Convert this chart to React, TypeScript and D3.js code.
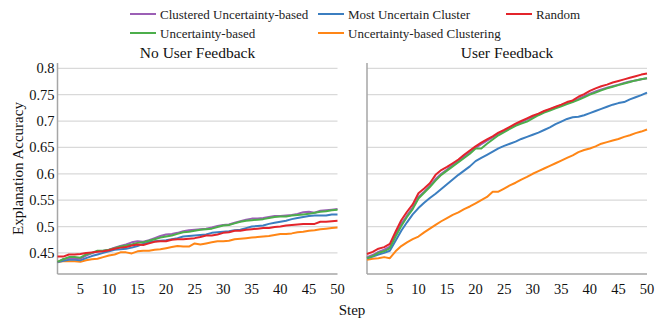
import React from "react";
import * as d3 from "d3";

const steps = d3.range(1, 51);
const yTicks = [0.45, 0.5, 0.55, 0.6, 0.65, 0.7, 0.75, 0.8];
const xTicks = [5, 10, 15, 20, 25, 30, 35, 40, 45, 50];

const seriesNames = [
  "Clustered Uncertainty-based",
  "Most Uncertain Cluster",
  "Random",
  "Uncertainty-based",
  "Uncertainty-based Clustering",
];
const seriesColors = ["#9b5fb5", "#3b7ec0", "#e3242b", "#4cae4b", "#ff8616"];

// No User Feedback
const nfClustered = [
  0.432, 0.438, 0.44, 0.44, 0.439, 0.445, 0.449, 0.453, 0.454, 0.456,
  0.46, 0.463, 0.466, 0.47, 0.472, 0.471, 0.474, 0.478, 0.482, 0.485,
  0.486, 0.488, 0.491, 0.493, 0.494, 0.495, 0.496, 0.498, 0.501, 0.503,
  0.504, 0.507, 0.51, 0.513, 0.515, 0.515, 0.516, 0.518, 0.52, 0.52,
  0.521, 0.522, 0.524, 0.527, 0.528, 0.526, 0.53, 0.531, 0.532, 0.533,
];
const nfMostUncertain = [
  0.432, 0.435, 0.437, 0.437, 0.436, 0.44, 0.444, 0.447, 0.45, 0.453,
  0.456, 0.457, 0.458, 0.46, 0.463, 0.467, 0.47, 0.472, 0.473, 0.474,
  0.476, 0.478, 0.481, 0.482, 0.483, 0.484, 0.485, 0.488, 0.489, 0.49,
  0.491, 0.493, 0.494, 0.497, 0.5, 0.501, 0.502, 0.505, 0.507, 0.509,
  0.511, 0.514, 0.516, 0.518, 0.52, 0.521, 0.521, 0.521, 0.523, 0.523,
];
const nfRandom = [
  0.443, 0.443, 0.447, 0.447, 0.448, 0.45, 0.451, 0.452, 0.453, 0.455,
  0.458, 0.46, 0.461, 0.464, 0.466, 0.465, 0.468, 0.471, 0.472, 0.472,
  0.475, 0.476, 0.476, 0.477, 0.478, 0.48, 0.483, 0.483, 0.485, 0.488,
  0.489, 0.492, 0.492, 0.494, 0.495, 0.496, 0.497, 0.497, 0.499, 0.5,
  0.502, 0.503, 0.504, 0.505, 0.505, 0.505, 0.509, 0.509, 0.51, 0.511,
];
const nfUncertainty = [
  0.433, 0.438, 0.442, 0.442, 0.441, 0.447, 0.45, 0.454, 0.454, 0.456,
  0.459, 0.462, 0.464, 0.466, 0.469, 0.47, 0.473, 0.476, 0.479, 0.481,
  0.483, 0.486, 0.489, 0.49, 0.492, 0.494, 0.495, 0.496, 0.499, 0.502,
  0.503, 0.506, 0.509, 0.511, 0.512, 0.513, 0.514, 0.516, 0.518, 0.519,
  0.519, 0.521, 0.522, 0.523, 0.524, 0.526, 0.528, 0.529, 0.531, 0.532,
];
const nfClustering = [
  0.433, 0.434, 0.434, 0.434, 0.433, 0.436, 0.438, 0.439, 0.442, 0.445,
  0.447, 0.451, 0.451, 0.449, 0.453, 0.454, 0.454, 0.456, 0.457, 0.459,
  0.461, 0.463, 0.462, 0.462, 0.468, 0.466, 0.468, 0.47, 0.472, 0.472,
  0.473, 0.476, 0.477, 0.478, 0.479, 0.48, 0.481, 0.482, 0.484, 0.486,
  0.486, 0.487, 0.489, 0.49, 0.492, 0.493, 0.495, 0.496, 0.497, 0.498,
];

// User Feedback
const ufClustered = [
  0.442, 0.446, 0.452, 0.456, 0.462, 0.485, 0.505, 0.521, 0.536, 0.556,
  0.566, 0.577, 0.59, 0.6, 0.608, 0.617, 0.625, 0.633, 0.641, 0.649,
  0.656, 0.663, 0.669, 0.676, 0.681, 0.687, 0.693, 0.698, 0.703, 0.708,
  0.713, 0.718, 0.722, 0.726, 0.73, 0.734, 0.737, 0.742, 0.747, 0.752,
  0.756, 0.76, 0.763, 0.766, 0.769, 0.772, 0.775, 0.777, 0.779, 0.781,
];
const ufMostUncertain = [
  0.44, 0.443, 0.447, 0.45, 0.454, 0.473, 0.492, 0.508, 0.523, 0.535,
  0.545, 0.554, 0.562, 0.571, 0.58, 0.589, 0.598, 0.606, 0.614, 0.624,
  0.63, 0.636, 0.642, 0.648, 0.653, 0.657, 0.661, 0.666, 0.67, 0.674,
  0.678, 0.683, 0.688, 0.694, 0.699, 0.704, 0.707, 0.708, 0.711, 0.715,
  0.719, 0.723, 0.727, 0.731, 0.734, 0.736, 0.741, 0.745, 0.749, 0.754,
];
const ufRandom = [
  0.448, 0.452, 0.458, 0.461, 0.467, 0.49, 0.512, 0.528, 0.542, 0.563,
  0.572, 0.582, 0.598, 0.607, 0.613, 0.62, 0.627, 0.636, 0.644, 0.652,
  0.659, 0.665, 0.671, 0.678, 0.683, 0.689, 0.695, 0.7, 0.705, 0.71,
  0.714, 0.719, 0.723, 0.727, 0.731, 0.736, 0.739, 0.746, 0.751, 0.757,
  0.762, 0.766, 0.769, 0.773, 0.776, 0.779, 0.782, 0.785, 0.788, 0.79,
];
const ufUncertainty = [
  0.44, 0.444, 0.45, 0.453, 0.459, 0.481, 0.501, 0.518, 0.533, 0.553,
  0.564, 0.575, 0.587, 0.598, 0.606, 0.614, 0.622, 0.63, 0.638, 0.648,
  0.648, 0.657, 0.665, 0.673, 0.679, 0.685, 0.691, 0.695, 0.699, 0.705,
  0.711, 0.716, 0.72, 0.724, 0.728, 0.732, 0.736, 0.74, 0.745, 0.75,
  0.754, 0.758, 0.762, 0.765, 0.768, 0.771, 0.774, 0.777, 0.779, 0.781,
];
const ufClustering = [
  0.437, 0.439, 0.44, 0.442, 0.44, 0.453, 0.463, 0.47, 0.476, 0.481,
  0.489, 0.496, 0.503, 0.51, 0.516, 0.522, 0.527, 0.533, 0.538, 0.544,
  0.55, 0.556, 0.566, 0.566, 0.572, 0.578, 0.583, 0.589, 0.594, 0.6,
  0.605, 0.61, 0.615, 0.62, 0.625, 0.63, 0.635, 0.641, 0.645, 0.648,
  0.652, 0.657, 0.66, 0.663, 0.666, 0.67, 0.673, 0.677, 0.68, 0.684,
];

const panels = [
  {
    title: "No User Feedback",
    x0: 57.5,
    x1: 337.5,
    series: [nfClustered, nfMostUncertain, nfRandom, nfUncertainty, nfClustering],
  },
  {
    title: "User Feedback",
    x0: 367,
    x1: 647,
    series: [ufClustered, ufMostUncertain, ufRandom, ufUncertainty, ufClustering],
  },
];

const W = 664;
const H = 332;
const top = 63;
const bottom = 274;
const font = '"Liberation Serif", "DejaVu Serif", serif';

// draw order: back to front
const drawOrder = [4, 1, 0, 3, 2];

const legendItems = [
  { i: 0, x: 130, y: 14 },
  { i: 1, x: 318, y: 14 },
  { i: 2, x: 506, y: 14 },
  { i: 3, x: 130, y: 33 },
  { i: 4, x: 318, y: 33 },
];

const txt = { fontFamily: font };

export default function App() {
  const y = d3.scaleLinear().domain([0.41, 0.81]).range([bottom, top]);

  return (
    <svg
      width={W}
      height={H}
      style={{ position: "absolute", left: 0, top: 0, background: "#fff", fontFamily: font }}
    >
      {legendItems.map((d) => (
        <g key={d.i}>
          <line
            x1={d.x}
            x2={d.x + 26}
            y1={d.y}
            y2={d.y}
            stroke={seriesColors[d.i]}
            strokeWidth={2}
          />
          <text x={d.x + 30} y={d.y} dy="0.35em" fontSize={13} fill="#222" style={txt}>
            {seriesNames[d.i]}
          </text>
        </g>
      ))}

      {panels.map((p, pi) => {
        const x = d3.scaleLinear().domain([1, 50]).range([p.x0, p.x1]);
        const line = d3
          .line<number>()
          .x((_, i) => x(steps[i]))
          .y((v) => y(v));
        return (
          <g key={p.title}>
            <text
              x={(p.x0 + p.x1) / 2}
              y={53}
              dy="0.35em"
              textAnchor="middle"
              fontSize={15.5}
              fill="#111"
              style={txt}
            >
              {p.title}
            </text>
            {yTicks.map((t) => (
              <line
                key={t}
                x1={p.x0}
                x2={p.x1}
                y1={y(t)}
                y2={y(t)}
                stroke="#d9d9d9"
                strokeWidth={1.2}
              />
            ))}
            {pi === 0 &&
              yTicks.map((t) => (
                <text
                  key={t}
                  x={p.x0 - 3}
                  y={y(t)}
                  dy="0.35em"
                  textAnchor="end"
                  fontSize={14.5}
                  fill="#111"
                  style={txt}
                >
                  {d3.format("")(t)}
                </text>
              ))}
            {xTicks.map((t) => (
              <text
                key={t}
                x={x(t)}
                y={289}
                dy="0.35em"
                textAnchor="middle"
                fontSize={14.5}
                fill="#111"
                style={txt}
              >
                {t}
              </text>
            ))}
            <line x1={p.x0} x2={p.x0} y1={top} y2={bottom} stroke="#a6a6a6" strokeWidth={1.5} />
            <line x1={p.x0} x2={p.x1} y1={bottom} y2={bottom} stroke="#a6a6a6" strokeWidth={1.5} />
            {drawOrder.map((si) => (
              <path
                key={si}
                d={line(p.series[si]) || ""}
                fill="none"
                stroke={seriesColors[si]}
                strokeWidth={2}
                strokeLinejoin="round"
              />
            ))}
          </g>
        );
      })}

      <text
        transform={`translate(18,${(top + bottom) / 2}) rotate(-90)`}
        textAnchor="middle"
        dy="0.35em"
        fontSize={15}
        fill="#111"
        style={txt}
      >
        Explanation Accuracy
      </text>
      <text x={352} y={310} dy="0.35em" textAnchor="middle" fontSize={15} fill="#111" style={txt}>
        Step
      </text>
    </svg>
  );
}
